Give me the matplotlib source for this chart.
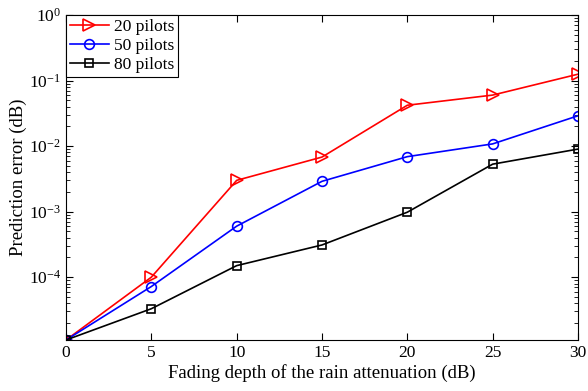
import matplotlib
matplotlib.use("Agg")
import matplotlib.pyplot as plt
from matplotlib.ticker import LogLocator, LogFormatterSciNotation, NullFormatter

fading_db = [0, 5, 10, 15, 20, 25, 30]
err_20 = [1.1e-5, 1.0e-4, 3.0e-3, 6.8e-3, 4.2e-2, 6.0e-2, 1.25e-1]
err_50 = [1.1e-5, 7.2e-5, 6.0e-4, 2.9e-3, 6.9e-3, 1.08e-2, 2.9e-2]
err_80 = [1.1e-5, 3.3e-5, 1.5e-4, 3.1e-4, 9.8e-4, 5.3e-3, 9.0e-3]

plt.rcParams["font.family"] = ["Liberation Serif", "DejaVu Serif"]
plt.rcParams["mathtext.fontset"] = "stix"

fig = plt.figure(figsize=(5.88, 3.91), dpi=100)
ax = fig.add_axes([66 / 588, 51 / 391, 512 / 588, 325 / 391])

ax.plot(fading_db, err_20, color="red", marker=">", markersize=8, markerfacecolor="none",
        markeredgewidth=1.2, linewidth=1.2, label="20 pilots")
ax.plot(fading_db, err_50, color="blue", marker="o", markersize=7, markerfacecolor="none",
        markeredgewidth=1.2, linewidth=1.2, label="50 pilots")
ax.plot(fading_db, err_80, color="black", marker="s", markersize=6, markerfacecolor="none",
        markeredgewidth=1.2, linewidth=1.2, label="80 pilots")

ax.set_yscale("log")
ax.set_xlim(0, 30)
ax.set_ylim(1.1e-5, 1)
ax.set_xticks(fading_db)
ax.set_yticks([1e-4, 1e-3, 1e-2, 1e-1, 1e0])
ax.yaxis.set_major_formatter(LogFormatterSciNotation())
ax.yaxis.set_minor_locator(LogLocator(base=10, subs=range(2, 10)))
ax.yaxis.set_minor_formatter(NullFormatter())
ax.tick_params(which="both", direction="in", top=True, right=True, labelsize=12.5)
ax.tick_params(which="major", length=5, width=0.8)
ax.tick_params(which="minor", length=3, width=0.6)

ax.set_xlabel("Fading depth of the rain attenuation (dB)", fontsize=13.5, labelpad=2)
ax.set_ylabel("Prediction error (dB)", fontsize=13.5, labelpad=1)

leg = ax.legend(loc="upper left", fontsize=12.5, fancybox=False, framealpha=1,
                edgecolor="black", borderaxespad=0, handlelength=2.2,
                handletextpad=0.3, borderpad=0.25, labelspacing=0.15)
leg.get_frame().set_linewidth(0.8)

fig.savefig("out.png", dpi=100)
